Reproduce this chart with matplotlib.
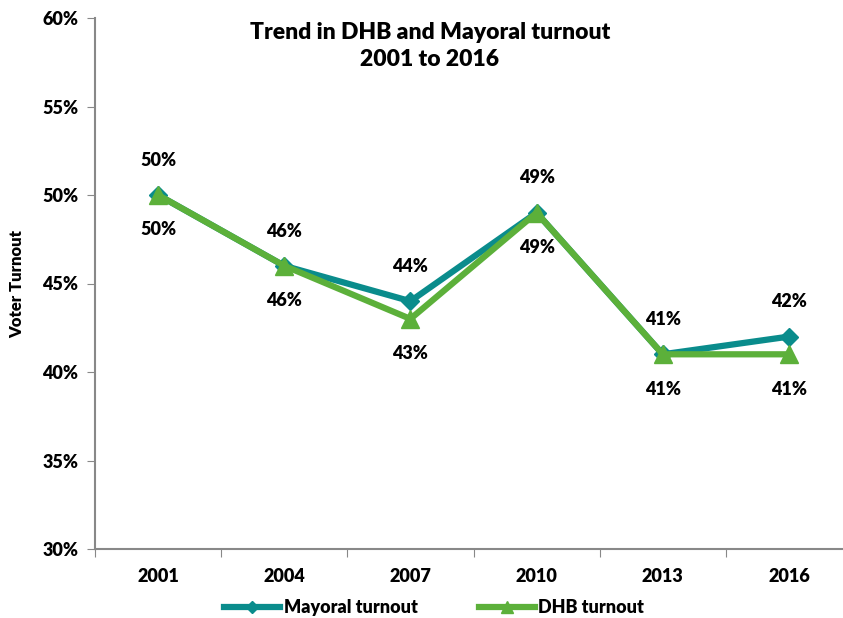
import matplotlib.pyplot as plt
from matplotlib.ticker import PercentFormatter

plt.rcParams['font.family'] = ['Lato', 'DejaVu Sans']
plt.rcParams['font.weight'] = 'heavy'
plt.rcParams['axes.labelweight'] = 'heavy'

years = ['2001', '2004', '2007', '2010', '2013', '2016']
mayoral = [50, 46, 44, 49, 41, 42]
dhb = [50, 46, 43, 49, 41, 41]

teal = '#0a8c8c'
green = '#5cb03a'

fig = plt.figure(figsize=(8.43, 6.18), dpi=100)
ax = fig.add_axes([95 / 843, 69 / 618, 757 / 843, 531 / 618])

x = list(range(len(years)))
ax.plot(x, mayoral, color=teal, lw=4.5, marker='D', ms=9, label='Mayoral turnout', zorder=3)
ax.plot(x, dhb, color=green, lw=4.5, marker='^', ms=13, label='DHB turnout', zorder=4)

# mayoral values above the points, DHB values below
for i in x:
    ax.annotate(f'{mayoral[i]}%', (i, mayoral[i]), xytext=(0, 25), textcoords='offset points',
                ha='center', va='center', fontsize=13)
    ax.annotate(f'{dhb[i]}%', (i, dhb[i]), xytext=(0, -25), textcoords='offset points',
                ha='center', va='center', fontsize=13)

ax.set_xlim(-0.5, 5.5)
ax.set_ylim(30, 60)
ax.set_yticks(range(30, 61, 5))
ax.yaxis.set_major_formatter(PercentFormatter(decimals=0))
ax.set_xticks([i - 0.5 for i in range(7)])
ax.set_xticklabels([])
ax.set_xticks(x, minor=True)
ax.set_xticklabels(years, minor=True)
ax.tick_params(axis='x', which='minor', length=0, pad=14, labelsize=13)
ax.tick_params(axis='x', which='major', length=6, color='#888888', direction='out')
ax.tick_params(axis='y', length=6, color='#888888', labelsize=13, pad=6)

for s in ['top', 'right']:
    ax.spines[s].set_visible(False)
for s in ['left', 'bottom']:
    ax.spines[s].set_color('#888888')
    ax.spines[s].set_linewidth(1.5)

ax.set_ylabel('Voter Turnout', fontsize=12, labelpad=12)
ax.text(0.4425, 0.993, 'Trend in DHB and Mayoral turnout\n2001 to 2016', transform=ax.transAxes,
        ha='center', va='top', fontsize=16.5, linespacing=1.35)

fig.legend(loc='center', bbox_to_anchor=(0.515, 0.017), ncol=2, frameon=False,
           fontsize=13, handlelength=3.1, columnspacing=3.4, handletextpad=0.2, markerscale=0.7)

fig.savefig('out.png', dpi=100)
